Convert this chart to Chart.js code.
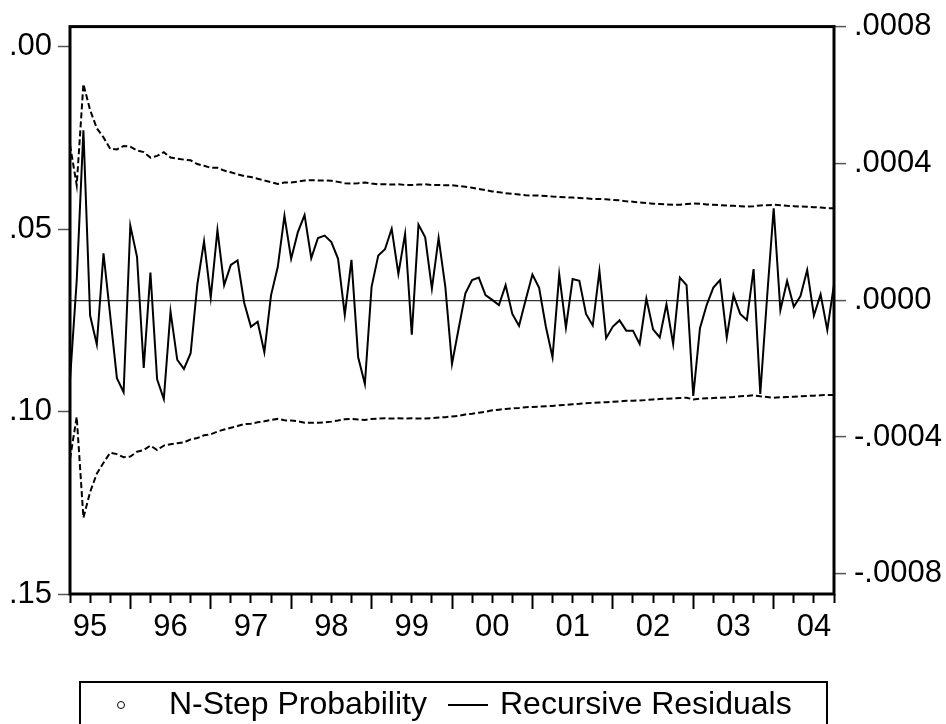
<!DOCTYPE html>
<html><head><meta charset="utf-8">
<script src="https://cdn.jsdelivr.net/npm/chart.js@4.4.0/dist/chart.umd.min.js"></script>
<style>
html,body{margin:0;padding:0;background:#fff;overflow:hidden}
#wrap{position:relative;width:946px;height:724px;background:#fff}
canvas{display:block}
#legend{position:absolute;left:79px;top:681px;width:749px;height:80px;border:2px solid #000;box-sizing:border-box;font-family:"Liberation Sans",Arial,sans-serif;font-size:32px;color:#000}
#legend span{position:absolute;white-space:nowrap}
#mk{left:36px;top:18px;width:6px;height:6px;border:1.3px solid #000;border-radius:50%}
#t1{left:88px;top:2px}
#ln{left:367px;top:21px;width:40px;height:0;border-top:2px solid #000}
#t2{left:419px;top:2px}
</style></head>
<body>
<div id="wrap">
<canvas id="c" width="946" height="724" style="width:946px;height:724px"></canvas>
<div id="legend"><span id="mk"></span><span id="t1">N-Step Probability</span><span id="ln"></span><span id="t2">Recursive Residuals</span></div>
</div>
<script>
// monthly observations, 1995M04 .. 2004M10
const yearLabels = ['95','96','97','98','99','00','01','02','03','04'];
const leftTickValues = [0, 0.05, 0.10, 0.15];
const leftTickLabels = ['.00', '.05', '.10', '.15'];
const rightTickValues = [-0.0008, -0.0004, 0, 0.0004, 0.0008];
const rightTickLabels = ['-.0008', '-.0004', '.0000', '.0004', '.0008'];

const residuals = [
 -0.000233, 0.000057, 0.000497, -0.000045, -0.000129, 0.000137, -0.000045, -0.000228, -0.000269, 0.000218,
  0.000127, -0.000198, 0.000081, -0.000231, -0.000289, -0.000033, -0.000174, -0.000201, -0.000155, 0.000046,
  0.000172, 0.000008, 0.000205, 0.000044, 0.000103, 0.000116, -0.000008, -0.000078, -0.000063, -0.000152,
  0.000015, 0.000097, 0.000247, 0.000121, 0.000199, 0.000249, 0.000123, 0.000182, 0.000189, 0.000170,
  0.000121, -0.000043, 0.000118, -0.000167, -0.000245, 0.000039, 0.000131, 0.000149, 0.000209, 0.000077,
  0.000194, -0.000101, 0.000221, 0.000184, 0.000034, 0.000182, 0.000040, -0.000186, -0.000082, 0.000020,
  0.000059, 0.000066, 0.000015, 0.000001, -0.000014, 0.000044, -0.000040, -0.000075, 0.000001, 0.000075,
  0.000036, -0.000077, -0.000167, 0.000075, -0.000080, 0.000062, 0.000057, -0.000040, -0.000074, 0.000085,
 -0.000111, -0.000077, -0.000059, -0.000089, -0.000089, -0.000128, 0.000005, -0.000085, -0.000109, -0.000012,
 -0.000128, 0.000066, 0.000044, -0.000280, -0.000082, -0.000014, 0.000037, 0.000059, -0.000109, 0.000015,
 -0.000040, -0.000058, 0.000091, -0.000274, 0.000005, 0.000269, -0.000029, 0.000056, -0.000019, 0.000012,
  0.000088, -0.000045, 0.000017, -0.000087, 0.000046
];

const upperBand = [
 0.000454, 0.000336, 0.000632, 0.000556, 0.000503, 0.000476, 0.000443, 0.000441, 0.000451, 0.000449,
 0.000438, 0.000433, 0.000417, 0.000422, 0.000433, 0.000417, 0.000414, 0.000411, 0.000409, 0.000398,
 0.000393, 0.000387, 0.000387, 0.000379, 0.000374, 0.000368, 0.000363, 0.000360, 0.000355, 0.000350,
 0.000345, 0.000340, 0.000344, 0.000344, 0.000347, 0.000350, 0.000351, 0.000350, 0.000350, 0.000349,
 0.000346, 0.000342, 0.000341, 0.000342, 0.000344, 0.000341, 0.000339, 0.000339, 0.000338, 0.000339,
 0.000337, 0.000337, 0.000338, 0.000339, 0.000337, 0.000337, 0.000336, 0.000336, 0.000334, 0.000332,
 0.000329, 0.000325, 0.000322, 0.000318, 0.000316, 0.000313, 0.000311, 0.000309, 0.000307, 0.000306,
 0.000306, 0.000305, 0.000303, 0.000302, 0.000301, 0.000300, 0.000299, 0.000298, 0.000296, 0.000296,
 0.000295, 0.000293, 0.000292, 0.000289, 0.000288, 0.000286, 0.000284, 0.000282, 0.000281, 0.000280,
 0.000279, 0.000279, 0.000281, 0.000283, 0.000282, 0.000280, 0.000279, 0.000278, 0.000277, 0.000276,
 0.000275, 0.000274, 0.000275, 0.000277, 0.000278, 0.000279, 0.000278, 0.000276, 0.000275, 0.000274,
 0.000273, 0.000272, 0.000271, 0.000269, 0.000269
];

const lowerBand = [
 -0.000464, -0.000341, -0.000636, -0.000561, -0.000507, -0.000475, -0.000446, -0.000450, -0.000459, -0.000457,
 -0.000443, -0.000438, -0.000425, -0.000438, -0.000425, -0.000421, -0.000418, -0.000416, -0.000407, -0.000403,
 -0.000395, -0.000392, -0.000384, -0.000378, -0.000373, -0.000368, -0.000362, -0.000361, -0.000357, -0.000354,
 -0.000350, -0.000347, -0.000351, -0.000352, -0.000354, -0.000358, -0.000358, -0.000358, -0.000357, -0.000355,
 -0.000352, -0.000348, -0.000347, -0.000349, -0.000350, -0.000347, -0.000346, -0.000345, -0.000346, -0.000345,
 -0.000346, -0.000345, -0.000346, -0.000346, -0.000345, -0.000343, -0.000342, -0.000340, -0.000338, -0.000334,
 -0.000332, -0.000329, -0.000326, -0.000322, -0.000320, -0.000318, -0.000316, -0.000315, -0.000313, -0.000312,
 -0.000311, -0.000310, -0.000309, -0.000307, -0.000306, -0.000304, -0.000303, -0.000301, -0.000300, -0.000299,
 -0.000298, -0.000297, -0.000296, -0.000294, -0.000294, -0.000293, -0.000292, -0.000290, -0.000289, -0.000288,
 -0.000287, -0.000286, -0.000285, -0.000290, -0.000288, -0.000287, -0.000286, -0.000285, -0.000284, -0.000283,
 -0.000281, -0.000280, -0.000278, -0.000281, -0.000283, -0.000285, -0.000284, -0.000283, -0.000282, -0.000281,
 -0.000280, -0.000279, -0.000278, -0.000277, -0.000277
];

// N-step probabilities: none fall inside the plotted 0 - .15 range
const nStepProb = [];

const toXY = arr => arr.map((v, i) => ({x: i, y: v}));
const lastIdx = residuals.length - 1;
const FONT = {family: "'Liberation Sans', Arial, sans-serif", size: 31};

const framePlugin = {
  id: 'frame',
  afterDatasetsDraw(chart) {
    const a = chart.chartArea, ctx = chart.ctx;
    ctx.save();
    ctx.strokeStyle = '#000';
    ctx.lineWidth = 3;
    ctx.strokeRect(a.left, a.top, a.right - a.left, a.bottom - a.top);
    ctx.restore();
  }
};

new Chart(document.getElementById('c'), {
  type: 'line',
  data: {
    datasets: [
      {label: 'Recursive Residuals', data: toXY(residuals), yAxisID: 'yR',
       borderColor: '#000', borderWidth: 2, pointRadius: 0, tension: 0, fill: false},
      {label: '+2 S.E.', data: toXY(upperBand), yAxisID: 'yR',
       borderColor: '#000', borderWidth: 2, borderDash: [6, 3], pointRadius: 0, tension: 0, fill: false},
      {label: '-2 S.E.', data: toXY(lowerBand), yAxisID: 'yR',
       borderColor: '#000', borderWidth: 2, borderDash: [6, 3], pointRadius: 0, tension: 0, fill: false},
      {label: 'N-Step Probability', data: toXY(nStepProb), yAxisID: 'yL', showLine: false,
       pointStyle: 'circle', pointRadius: 3, pointBorderColor: '#000', pointBackgroundColor: '#fff'}
    ]
  },
  options: {
    responsive: false,
    animation: false,
    devicePixelRatio: 1,
    layout: {padding: {top: 22, left: 0, right: 0, bottom: 0}},
    plugins: {legend: {display: false}, tooltip: {enabled: false}, title: {display: false}},
    scales: {
      x: {
        type: 'linear', position: 'bottom', min: 0, max: lastIdx,
        afterBuildTicks: s => { const t = []; for (let v = 0; v <= lastIdx; v += 3) t.push({value: v}); s.ticks = t; },
        afterFit: s => { s.height = 130; },
        border: {display: false},
        grid: {
          drawOnChartArea: false, drawTicks: true, tickLength: 15, tickWidth: 2, tickColor: '#000',
          tickBorderDash: ctx => (ctx.tick && (ctx.tick.value - 9) % 12 === 0) ? [] : [9, 40]
        },
        ticks: {
          autoSkip: false, maxRotation: 0, minRotation: 0, padding: 0, color: '#000', font: FONT,
          callback: v => ((v - 3) % 12 === 0) ? yearLabels[(v - 3) / 12] : ''
        }
      },
      yL: {
        type: 'linear', position: 'left', reverse: true, min: -0.00555, max: 0.15,
        afterBuildTicks: s => { s.ticks = leftTickValues.map(v => ({value: v})); },
        afterFit: s => { s.width = 70; },
        border: {display: false},
        grid: {drawOnChartArea: false, tickLength: 12, tickWidth: 1.5, tickColor: '#555'},
        ticks: {padding: 6, color: '#000', font: FONT,
          callback: v => { const k = leftTickValues.findIndex(t => Math.abs(t - v) < 1e-9); return k < 0 ? '' : leftTickLabels[k]; }}
      },
      yR: {
        type: 'linear', position: 'right', min: -0.000859, max: 0.0008,
        afterBuildTicks: s => { s.ticks = rightTickValues.map(v => ({value: v})); },
        afterFit: s => { s.width = 112; },
        border: {display: false},
        grid: {
          drawOnChartArea: true, tickLength: 12, tickWidth: 1.5, tickColor: '#555',
          lineWidth: 1.2,
          color: ctx => (ctx.tick && Math.abs(ctx.tick.value) < 1e-12) ? '#333' : 'rgba(0,0,0,0)'
        },
        ticks: {padding: 8, color: '#000', font: FONT,
          callback: v => { const k = rightTickValues.findIndex(t => Math.abs(t - v) < 1e-12); return k < 0 ? '' : rightTickLabels[k]; }}
      }
    }
  },
  plugins: [framePlugin]
});
</script>
</body></html>
